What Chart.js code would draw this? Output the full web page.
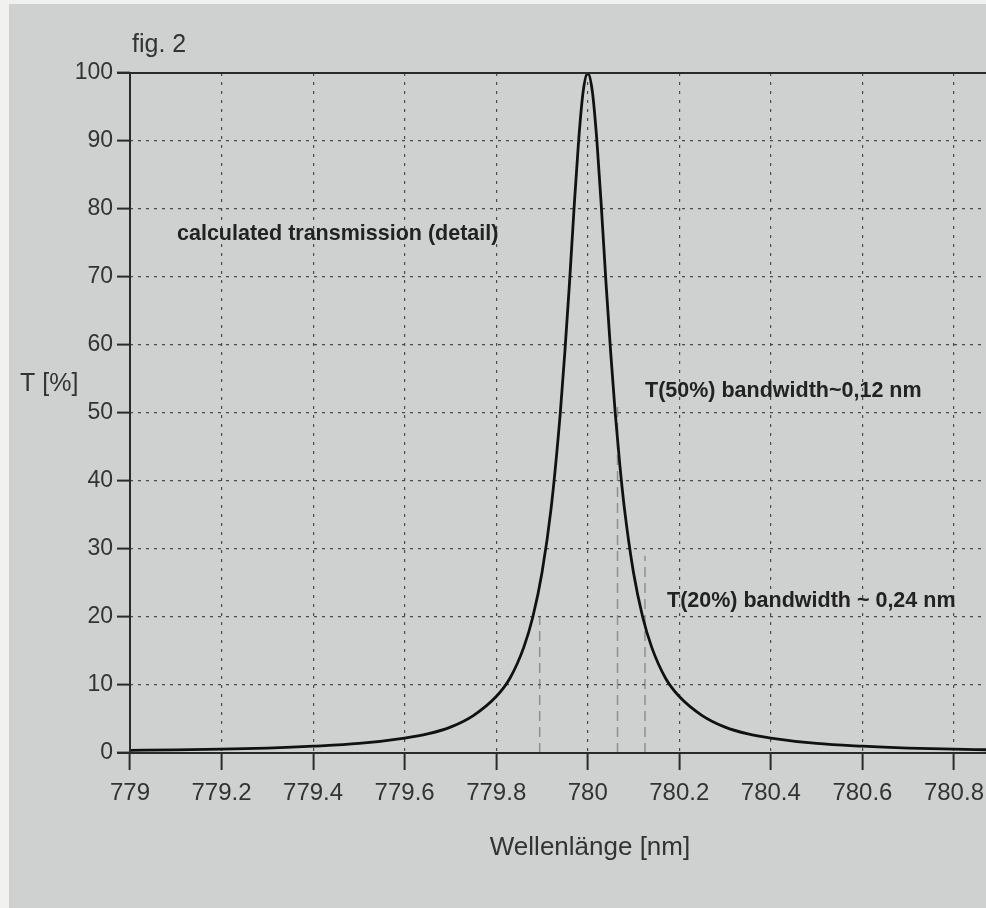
<!DOCTYPE html>
<html>
<head>
<meta charset="utf-8">
<script src="https://cdn.jsdelivr.net/npm/chart.js@4/dist/chart.umd.min.js"></script>
<style>
  body { margin: 0; background: #cfd1d0; }
  #wrap { width: 986px; height: 908px; }
</style>
</head>
<body>
<div id="wrap"><canvas id="transChart" width="986" height="908"></canvas></div>
<script>
// wavelength (nm) and calculated transmission (%)
const wavelength = [779.0, 779.1, 779.2, 779.3, 779.4, 779.5, 779.6, 779.65, 779.7, 779.75,
  779.8, 779.83, 779.86, 779.88, 779.9, 779.92, 779.94, 779.95, 779.96, 779.97, 779.98, 779.99,
  780.0, 780.01, 780.02, 780.03, 780.04, 780.05, 780.06, 780.07, 780.08, 780.1, 780.12, 780.14,
  780.17, 780.2, 780.25, 780.3, 780.35, 780.4, 780.5, 780.6, 780.7, 780.8, 780.87];
const transmission = [0.4, 0.45, 0.56, 0.73, 1.0, 1.4, 2.2, 2.8, 3.8, 5.5,
  8.3, 11, 15.5, 20, 26.5, 36, 50, 59, 69, 80, 90, 97.3,
  100, 97.3, 90, 80, 69, 59, 50, 42.4, 36, 26.5, 20, 15.5,
  11, 8.3, 5.5, 3.8, 2.8, 2.2, 1.4, 1.0, 0.73, 0.56, 0.48];

// hand-drawn bandwidth markers: wavelength and top of each mark (%)
const markerX = [779.895, 780.065, 780.125];
const markerTop = [20, 51, 29];

const xTicks = [779, 779.2, 779.4, 779.6, 779.8, 780, 780.2, 780.4, 780.6, 780.8];
const yTicks = [0, 10, 20, 30, 40, 50, 60, 70, 80, 90, 100];

const ink = "#2a2a2a";
const font = "'Liberation Sans', Arial, sans-serif";

const curve = wavelength.map((w, i) => ({ x: w, y: transmission[i] }));

const markerSets = markerX.map((mx, i) => ({
  data: [{ x: mx, y: 0 }, { x: mx, y: markerTop[i] }],
  borderColor: "rgba(90,90,90,0.55)",
  borderWidth: 1.5,
  borderDash: [10, 6],
  pointRadius: 0,
  tension: 0
}));

const paperPlugin = {
  id: "paper",
  beforeDraw(chart) {
    const c = chart.ctx;
    c.save();
    c.fillStyle = "#cfd1d0";
    c.fillRect(0, 0, chart.width, chart.height);
    // white table edge showing at the left and top of the photo
    c.fillStyle = "#f1f1f0";
    c.fillRect(0, 0, 9, chart.height);
    c.fillRect(0, 0, chart.width, 4);
    c.restore();
  },
  afterDraw(chart) {
    const c = chart.ctx;
    const a = chart.chartArea;
    c.save();
    // frame: left axis, bottom axis, top line
    c.strokeStyle = ink;
    c.lineWidth = 2;
    c.beginPath();
    c.moveTo(a.left, a.top);
    c.lineTo(a.left, a.bottom);
    c.moveTo(a.left - 13, a.bottom);
    c.lineTo(a.right, a.bottom);
    c.moveTo(a.left - 13, a.top);
    c.lineTo(a.right, a.top);
    c.stroke();

    c.fillStyle = "#333";
    c.textBaseline = "middle";
    c.font = "25px " + font;
    c.textAlign = "left";
    c.fillText("fig. 2", 132, 45);
    c.fillText("T [%]", 20, 384);
    c.font = "26px " + font;
    c.textAlign = "center";
    c.fillText("Wellenlänge [nm]", 590, 848);

    c.fillStyle = "#222";
    c.font = "bold 21.5px " + font;
    c.textAlign = "left";
    c.fillText("calculated transmission (detail)", 177, 234);
    c.fillText("T(50%) bandwidth~0,12 nm", 645, 391);
    c.fillText("T(20%) bandwidth ~ 0,24 nm", 667, 601);
    c.restore();
  }
};

new Chart(document.getElementById("transChart").getContext("2d"), {
  type: "line",
  data: {
    datasets: [{
      data: curve,
      borderColor: "#111",
      borderWidth: 2.8,
      pointRadius: 0,
      cubicInterpolationMode: "monotone"
    }, ...markerSets]
  },
  options: {
    responsive: false,
    animation: false,
    layout: { padding: { top: 73, left: 0, right: 0, bottom: 0 } },
    plugins: {
      legend: { display: false },
      tooltip: { enabled: false }
    },
    scales: {
      x: {
        type: "linear",
        min: 779,
        max: 780.87,
        afterFit: s => { s.height = 155; s.paddingRight = 0; },
        afterBuildTicks: s => { s.ticks = xTicks.map(v => ({ value: v })); },
        ticks: {
          autoSkip: false,
          maxRotation: 0,
          padding: 9,
          color: "#333",
          font: { family: font, size: 24 },
          callback: v => String(+v.toFixed(1))
        },
        grid: {
          color: "#4a4a4a",
          lineWidth: 1.2,
          tickLength: 17,
          tickColor: ink,
          tickWidth: 2,
          tickBorderDash: []
        },
        border: { display: false, dash: [3, 6] }
      },
      y: {
        min: 0,
        max: 100,
        afterFit: s => { s.width = 130; },
        afterBuildTicks: s => { s.ticks = yTicks.map(v => ({ value: v })); },
        ticks: {
          padding: 4,
          color: "#333",
          font: { family: font, size: 23 }
        },
        grid: {
          color: "#4a4a4a",
          lineWidth: 1.2,
          tickLength: 13,
          tickColor: ink,
          tickWidth: 2,
          tickBorderDash: []
        },
        border: { display: false, dash: [3, 5] }
      }
    }
  },
  plugins: [paperPlugin]
});
</script>
</body>
</html>
